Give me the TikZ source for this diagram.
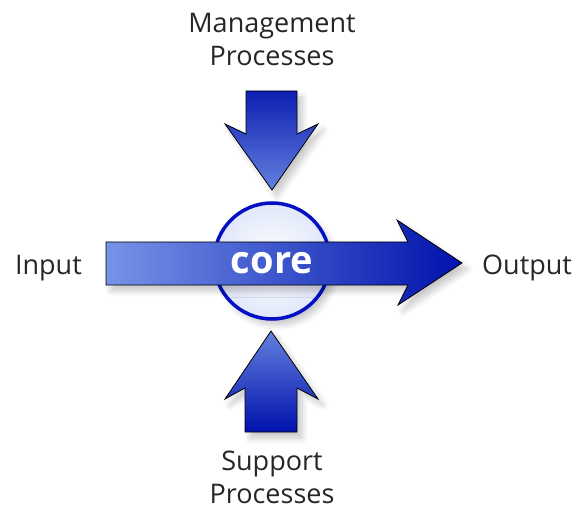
\documentclass[tikz,border=0pt]{standalone}
\usepackage{fontspec}
\setmainfont{Open Sans}
\usetikzlibrary{shadows.blur}
\definecolor{arrlight}{RGB}{118,148,232}
\definecolor{arrdark}{RGB}{0,18,172}
\definecolor{ringblue}{RGB}{4,16,196}
\begin{document}
\begin{tikzpicture}[x = 1pt, y = -1pt,
  lbl/.style={font=\fontsize{27}{33}\selectfont, inner sep = 0pt, align = center, text = black!85},
  blk/.style={draw = black, line width = 0.8pt, blur shadow={shadow xshift=5pt, shadow yshift=-6pt, shadow opacity=22, shadow blur steps=8, shadow blur radius=6pt}}]
\useasboundingbox (0,0) rectangle (577,510);
% core circle
\shade[blk, draw = ringblue, line width = 3.5pt, inner color = white, outer color = arrlight!22] (272,261) circle (58);
% management arrow (down)
\shade[blk, top color = arrdark!90!arrlight, bottom color = arrlight!85!arrdark]
  (246,91) -- (297,91) -- (297,134) -- (318,124) -- (272,190) -- (225,124) -- (246,134) -- cycle;
% support arrow (up)
\shade[blk, top color = arrlight!85!arrdark, bottom color = arrdark]
  (271,331) -- (318,399) -- (297,388) -- (297,432) -- (245,432) -- (245,388) -- (225,399) -- cycle;
% input to output
\shade[blk, left color = arrlight, right color = arrdark]
  (106,242) -- (408,242) -- (397,220) -- (462,263) -- (398,305) -- (408,285) -- (106,285) -- cycle;
\path (272,273) node[anchor = base, inner sep = 0pt, text = white, font = \fontsize{38}{38}\selectfont\bfseries] (core) {core};
\path (272,66) node[lbl, anchor = base] (mgmt) {Management\\Processes};
\path (272,503) node[lbl, anchor = base] (supp) {Support\\Processes};
\path (82,274) node[lbl, anchor = base east] (in) {Input};
\path (482,274) node[lbl, anchor = base west] (out) {Output};
\end{tikzpicture}
\end{document}
